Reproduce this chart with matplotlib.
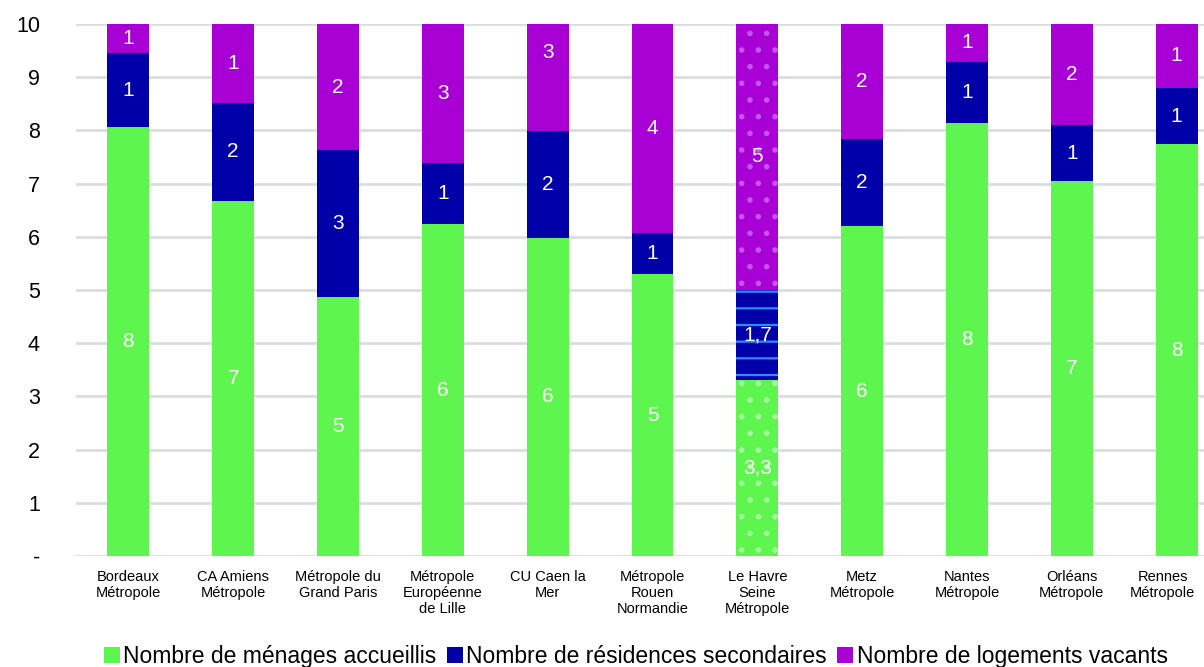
import matplotlib.pyplot as plt
from matplotlib.transforms import ScaledTranslation

plt.rcParams['font.family'] = ['Liberation Sans', 'DejaVu Sans']
plt.rcParams['hatch.linewidth'] = 1.6

# Categories (x axis)
categories = [
    'Bordeaux\nMétropole', 'CA Amiens\nMétropole', 'Métropole du\nGrand Paris',
    'Métropole\nEuropéenne\nde Lille', 'CU Caen la\nMer', 'Métropole\nRouen\nNormandie',
    'Le Havre\nSeine\nMétropole', 'Metz\nMétropole', 'Nantes\nMétropole',
    'Orléans\nMétropole', 'Rennes\nMétropole',
]

# Series values
menages = [8.06, 6.68, 4.87, 6.24, 5.98, 5.30, 3.3, 6.20, 8.14, 7.05, 7.74]
residences = [1.39, 1.84, 2.76, 1.15, 2.01, 0.77, 1.7, 1.64, 1.15, 1.05, 1.06]
vacants = [0.55, 1.48, 2.37, 2.61, 2.95, 3.93, 5.0, 2.16, 0.71, 1.90, 1.20]

series_labels = ['Nombre de ménages accueillis', 'Nombre de résidences secondaires',
                 'Nombre de logements vacants']
colors = ['#5ef64e', '#0000a8', '#a800d4']
pattern_colors = ['#a8f7a0', '#2a8cff', '#c455f0']
pattern_hatches = ['.', '-', '.']

# category with decimal labels and patterned bars
special = 6

fig = plt.figure(figsize=(12.04, 6.67), dpi=100)
ax = fig.add_axes([76 / 1204, 111 / 667, 1153 / 1204, 532 / 667])

x = list(range(len(categories)))
bottom = [0] * len(categories)
for k, values in enumerate([menages, residences, vacants]):
    bars = ax.bar(x, values, bottom=bottom, width=0.4, color=colors[k],
                  linewidth=0, label=series_labels[k], zorder=2)
    # patterned bar
    bars[special].set_hatch(pattern_hatches[k])
    bars[special].set_edgecolor(pattern_colors[k])
    for i, (b, v) in enumerate(zip(bottom, values)):
        txt = f'{v:g}'.replace('.', ',') if i == special else f'{v:.0f}'
        ax.text(i, b + v / 2, txt, ha='center', va='center', color='white',
                fontsize=15, zorder=3)
    bottom = [b + v for b, v in zip(bottom, values)]

ax.set_xlim(-0.5, 10.5)
ax.set_ylim(0, 10)
ax.set_yticks(range(0, 11))
ax.set_yticklabels(['-'] + [str(i) for i in range(1, 11)], fontsize=15.5)
ax.set_xticks(x)
ax.set_xticklabels(categories, fontsize=10.5)
ax.tick_params(length=0)
ax.tick_params(axis='y', pad=26)
ax.tick_params(axis='x', pad=10)
# last label shifted left to stay in the picture
last = ax.get_xticklabels()[-1]
last.set_transform(last.get_transform() + ScaledTranslation(-14 / 100, 0, fig.dpi_scale_trans))

ax.grid(axis='y', color='#d9dfde', linewidth=2, zorder=0)
ax.set_axisbelow(True)
for s in ax.spines.values():
    s.set_visible(False)

handles, labels = ax.get_legend_handles_labels()
leg = fig.legend(handles, labels, loc='center', bbox_to_anchor=(0.528, 0.016),
                 ncol=3, frameon=False, fontsize=16.5, handlelength=0.7,
                 handleheight=0.7, handletextpad=0.15, columnspacing=0.45)
for patch, c in zip(leg.get_patches(), colors):
    patch.set_hatch(None)
    patch.set_edgecolor(c)

fig.savefig('out.png', dpi=100)
